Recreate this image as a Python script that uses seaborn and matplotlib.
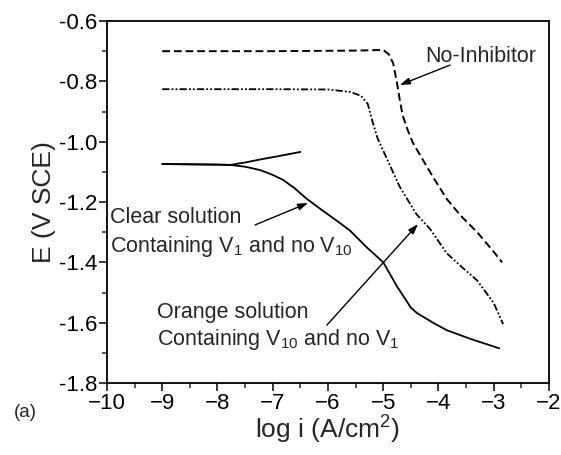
import numpy as np
import pandas as pd
import matplotlib
matplotlib.use("Agg")
import matplotlib.pyplot as plt
import seaborn as sns
from matplotlib.ticker import MultipleLocator, FormatStrFormatter

# No-Inhibitor (dashed)
no_inh_x = [-9.0, -7.0, -5.5, -5.0, -4.9, -4.82, -4.75, -4.70, -4.65, -4.55,
            -4.46, -4.1, -3.85, -3.6, -3.3, -3.0, -2.85]
no_inh_e = [-0.700, -0.700, -0.698, -0.696, -0.710, -0.740, -0.806, -0.862, -0.912, -0.965,
            -1.005, -1.117, -1.19, -1.245, -1.30, -1.365, -1.40]

# Orange solution, V10 (dash-dot-dot)
v10_x = [-9.0, -7.0, -6.0, -5.6, -5.4, -5.28, -5.2, -5.1, -4.95, -4.7,
         -4.4, -4.15, -3.85, -3.55, -3.3, -3.0, -2.83]
v10_e = [-0.826, -0.826, -0.827, -0.835, -0.848, -0.875, -0.93, -0.99, -1.05, -1.15,
         -1.24, -1.29, -1.37, -1.42, -1.46, -1.535, -1.605]

# Clear solution, V1 (solid): upper (anodic) and lower (cathodic) branch
v1_up_x = [-9.0, -8.5, -8.0, -7.77, -7.5, -7.2, -6.9, -6.5]
v1_up_e = [-1.074, -1.075, -1.076, -1.077, -1.069, -1.058, -1.048, -1.034]
v1_low_x = [-9.0, -8.5, -8.0, -7.77, -7.5, -7.23, -7.0, -6.81, -6.6, -6.38, -6.1, -5.84,
            -5.6, -5.3, -5.0, -4.75, -4.5, -4.39, -4.1, -3.85, -3.4, -2.9]
v1_low_e = [-1.074, -1.075, -1.076, -1.077, -1.083, -1.094, -1.11, -1.127, -1.155, -1.19,
            -1.228, -1.262, -1.295, -1.35, -1.40, -1.48, -1.55, -1.568, -1.60, -1.625,
            -1.655, -1.685]

x_ticks = [-10, -9, -8, -7, -6, -5, -4, -3, -2]
y_ticks = [-1.8, -1.6, -1.4, -1.2, -1.0, -0.8, -0.6]

sns.set_style("ticks")
plt.rcParams['font.family'] = ['Liberation Sans', 'DejaVu Sans']
plt.rcParams['mathtext.default'] = 'regular'

fig = plt.figure(figsize=(5.61, 4.55), dpi=100)
ax = fig.add_axes([0.1907, 0.1582, 0.7879, 0.7956])

sns.lineplot(x=no_inh_x, y=no_inh_e, sort=False, ax=ax, color='black', lw=1.4,
             linestyle=(0, (4, 2)))
sns.lineplot(x=v10_x, y=v10_e, sort=False, ax=ax, color='black', lw=1.3,
             linestyle=(0, (4, 1.2, 1, 1.2, 1, 1.2)))
sns.lineplot(x=v1_up_x, y=v1_up_e, sort=False, ax=ax, color='black', lw=1.3)
sns.lineplot(x=v1_low_x, y=v1_low_e, sort=False, ax=ax, color='black', lw=1.3)

ax.set_xlim(-10, -2)
ax.set_ylim(-1.8, -0.6)
ax.set_xticks(x_ticks)
ax.set_yticks(y_ticks)
ax.xaxis.set_minor_locator(MultipleLocator(0.5))
ax.yaxis.set_minor_locator(MultipleLocator(0.1))
ax.yaxis.set_major_formatter(FormatStrFormatter('%.1f'))
ax.tick_params(which='major', direction='out', length=6, width=1.1, labelsize=16,
               colors='black', pad=1)
ax.tick_params(which='minor', direction='out', length=3.5, width=1.1)
for s in ax.spines.values():
    s.set_linewidth(1.3)
    s.set_color('black')

ax.set_xlabel('log i (A/cm$^2$)', fontsize=19, labelpad=0)
ax.set_ylabel('E (V SCE)', fontsize=19, labelpad=2)

tk = dict(fontsize=15.5, va='baseline', ha='left')
ax.text(-9.946, -1.2695, 'Clear solution', **tk)
ax.text(-9.946, -1.366, 'Containing V$_1$ and no V$_{10}$', **tk)
ax.text(-9.095, -1.584, 'Orange solution', **tk)
ax.text(-9.095, -1.674, 'Containing V$_{10}$ and no V$_1$', **tk)
ax.text(-4.244, -0.736, 'No-Inhibitor', **tk)

arrow = dict(arrowstyle='-|>,head_length=0.6,head_width=0.2', color='black', lw=1.0,
             shrinkA=0, shrinkB=0)
ax.annotate('', xy=(-4.70, -0.812), xytext=(-3.79, -0.746), arrowprops=arrow)
ax.annotate('', xy=(-6.36, -1.203), xytext=(-7.32, -1.276), arrowprops=arrow)
ax.annotate('', xy=(-4.37, -1.273), xytext=(-6.02, -1.608), arrowprops=arrow)

fig.text(0.025, 0.084, '(a)', fontsize=13.5, va='baseline', ha='left')

fig.savefig('out.png', dpi=100)
